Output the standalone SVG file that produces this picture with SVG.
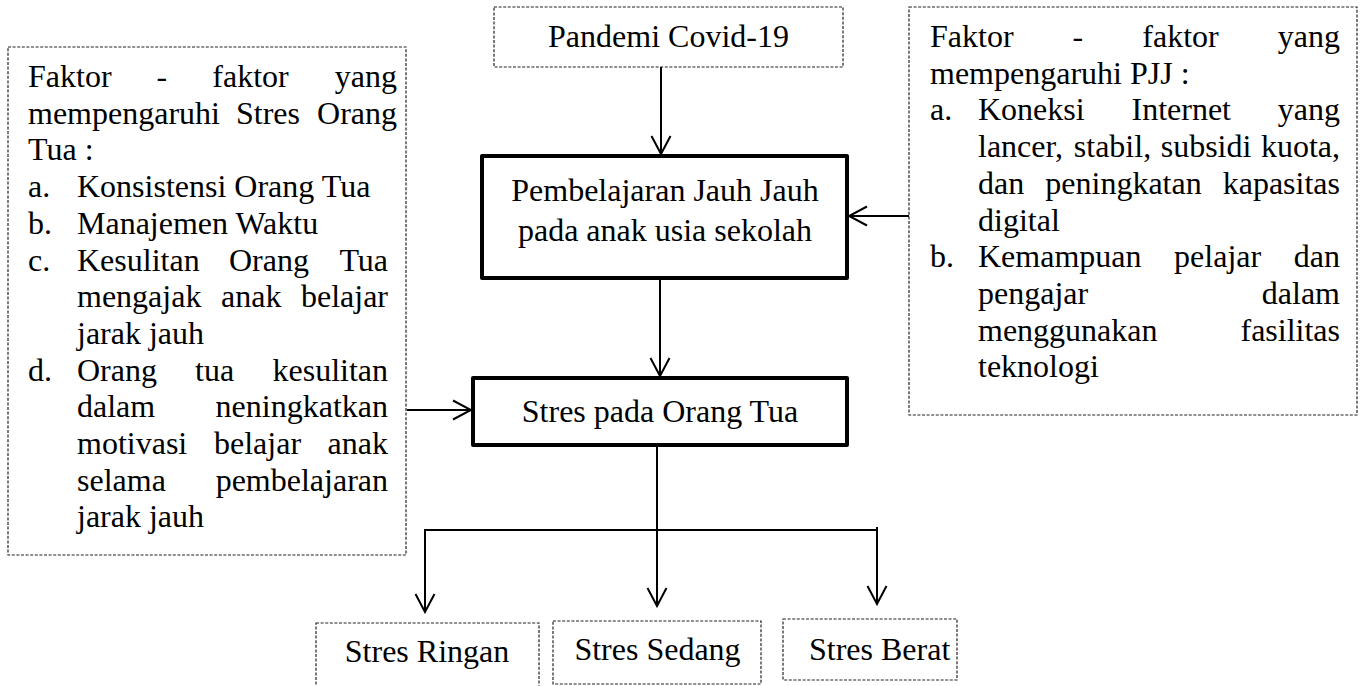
<svg xmlns="http://www.w3.org/2000/svg" width="1364" height="686" viewBox="0 0 1364 686">
<style>
  .t { font-family: "Liberation Serif", "Times New Roman", serif; font-size: 32px; fill: #000; }
  .c { text-anchor: middle; }
  .e { text-anchor: end; }
  .dash { fill: #fff; stroke: #222; stroke-width: 1.2; stroke-dasharray: 3 1.6; }
  .thick { fill: #fff; stroke: #000; stroke-width: 4; stroke-linejoin: round; }
  .conn { fill: none; stroke: #000; stroke-width: 2; }
</style>
<defs>
  <marker id="arrow" markerUnits="userSpaceOnUse" viewBox="-21 -12 23 24" refX="0" refY="0" markerWidth="23" markerHeight="24" orient="auto">
    <path d="M-18,-9.5 L0,0 L-18,9.5" fill="none" stroke="#000" stroke-width="2"/>
  </marker>
</defs>
<rect width="1364" height="686" fill="#fff"/>

<g id="node-pandemi">
  <rect class="dash" x="494" y="7" width="349" height="60"/>
  <text class="t c" x="668.5" y="47">Pandemi Covid-19</text>
</g>

<g id="node-pjj">
  <rect class="thick" x="482" y="156" width="365" height="122"/>
  <text class="t c" x="665" y="201">Pembelajaran Jauh Jauh</text>
  <text class="t c" x="665" y="241">pada anak usia sekolah</text>
</g>

<g id="node-stres">
  <rect class="thick" x="473" y="378" width="374" height="67"/>
  <text class="t c" x="660" y="422">Stres pada Orang Tua</text>
</g>

<g id="node-faktor-stres">
  <rect class="dash" x="8" y="47" width="398" height="508"/>
  <text class="t"><tspan x="28" y="87">Faktor</tspan><tspan x="156.6" y="87">-</tspan><tspan x="212.3" y="87">faktor</tspan><tspan class="e" x="397" y="87">yang</tspan></text>
  <text class="t"><tspan x="28" y="123.7">mempengaruhi</tspan><tspan x="236" y="123.7">Stres</tspan><tspan class="e" x="397" y="123.7">Orang</tspan></text>
  <text class="t" x="28" y="160.4">Tua :</text>
  <text class="t" x="28" y="197.1">a.</text>
  <text class="t" x="77" y="197.1">Konsistensi Orang Tua</text>
  <text class="t" x="28" y="233.8">b.</text>
  <text class="t" x="77" y="233.8">Manajemen Waktu</text>
  <text class="t" x="28" y="270.5">c.</text>
  <text class="t"><tspan x="77" y="270.5">Kesulitan</tspan><tspan x="229" y="270.5">Orang</tspan><tspan class="e" x="388" y="270.5">Tua</tspan></text>
  <text class="t"><tspan x="77" y="307.2">mengajak</tspan><tspan x="221" y="307.2">anak</tspan><tspan class="e" x="388" y="307.2">belajar</tspan></text>
  <text class="t" x="77" y="343.9">jarak jauh</text>
  <text class="t" x="28" y="380.6">d.</text>
  <text class="t"><tspan x="77" y="380.6">Orang</tspan><tspan x="195" y="380.6">tua</tspan><tspan class="e" x="388" y="380.6">kesulitan</tspan></text>
  <text class="t"><tspan x="77" y="417.3">dalam</tspan><tspan class="e" x="388" y="417.3">neningkatkan</tspan></text>
  <text class="t"><tspan x="77" y="454">motivasi</tspan><tspan x="214" y="454">belajar</tspan><tspan class="e" x="388" y="454">anak</tspan></text>
  <text class="t"><tspan x="77" y="490.7">selama</tspan><tspan class="e" x="388" y="490.7">pembelajaran</tspan></text>
  <text class="t" x="77" y="527.4">jarak jauh</text>
</g>

<g id="node-faktor-pjj">
  <rect class="dash" x="909" y="7" width="448" height="408"/>
  <text class="t"><tspan x="930" y="47">Faktor</tspan><tspan x="1072.6" y="47">-</tspan><tspan x="1142.3" y="47">faktor</tspan><tspan class="e" x="1340" y="47">yang</tspan></text>
  <text class="t" x="930" y="83.7">mempengaruhi PJJ :</text>
  <text class="t" x="930" y="120.4">a.</text>
  <text class="t"><tspan x="978" y="120.4">Koneksi</tspan><tspan x="1131.5" y="120.4">Internet</tspan><tspan class="e" x="1340" y="120.4">yang</tspan></text>
  <text class="t"><tspan x="978" y="157.1">lancer,</tspan><tspan x="1073.8" y="157.1">stabil,</tspan><tspan x="1160.7" y="157.1">subsidi</tspan><tspan class="e" x="1340" y="157.1">kuota,</tspan></text>
  <text class="t"><tspan x="978" y="193.8">dan</tspan><tspan x="1045.3" y="193.8">peningkatan</tspan><tspan class="e" x="1340" y="193.8">kapasitas</tspan></text>
  <text class="t" x="978" y="230.5">digital</text>
  <text class="t" x="930" y="267.2">b.</text>
  <text class="t"><tspan x="978" y="267.2">Kemampuan</tspan><tspan x="1174.1" y="267.2">pelajar</tspan><tspan class="e" x="1340" y="267.2">dan</tspan></text>
  <text class="t"><tspan x="978" y="303.9">pengajar</tspan><tspan class="e" x="1340" y="303.9">dalam</tspan></text>
  <text class="t"><tspan x="978" y="340.6">menggunakan</tspan><tspan class="e" x="1340" y="340.6">fasilitas</tspan></text>
  <text class="t" x="978" y="377.3">teknologi</text>
</g>

<g id="node-ringan">
  <rect class="dash" x="316" y="623" width="223" height="70"/>
  <text class="t c" x="427" y="662">Stres Ringan</text>
</g>

<g id="node-sedang">
  <rect class="dash" x="553" y="621" width="208" height="63"/>
  <text class="t c" x="657.5" y="660">Stres Sedang</text>
</g>

<g id="node-berat">
  <rect class="dash" x="783" y="619" width="174" height="61"/>
  <text class="t" x="809" y="660">Stres Berat</text>
</g>

<g id="connectors">
  <line class="conn" x1="661" y1="67" x2="661" y2="154" marker-end="url(#arrow)"/>
  <line class="conn" x1="660" y1="280" x2="660" y2="376" marker-end="url(#arrow)"/>
  <line class="conn" x1="407" y1="410" x2="471" y2="410" marker-end="url(#arrow)"/>
  <line class="conn" x1="909" y1="216" x2="849" y2="216" marker-end="url(#arrow)"/>
  <line class="conn" x1="657" y1="447" x2="657" y2="606" marker-end="url(#arrow)"/>
  <polyline class="conn" points="425,530 877,530"/>
  <line class="conn" x1="425" y1="529" x2="425" y2="612" marker-end="url(#arrow)"/>
  <line class="conn" x1="877" y1="527" x2="877" y2="604" marker-end="url(#arrow)"/>
</g>
</svg>
